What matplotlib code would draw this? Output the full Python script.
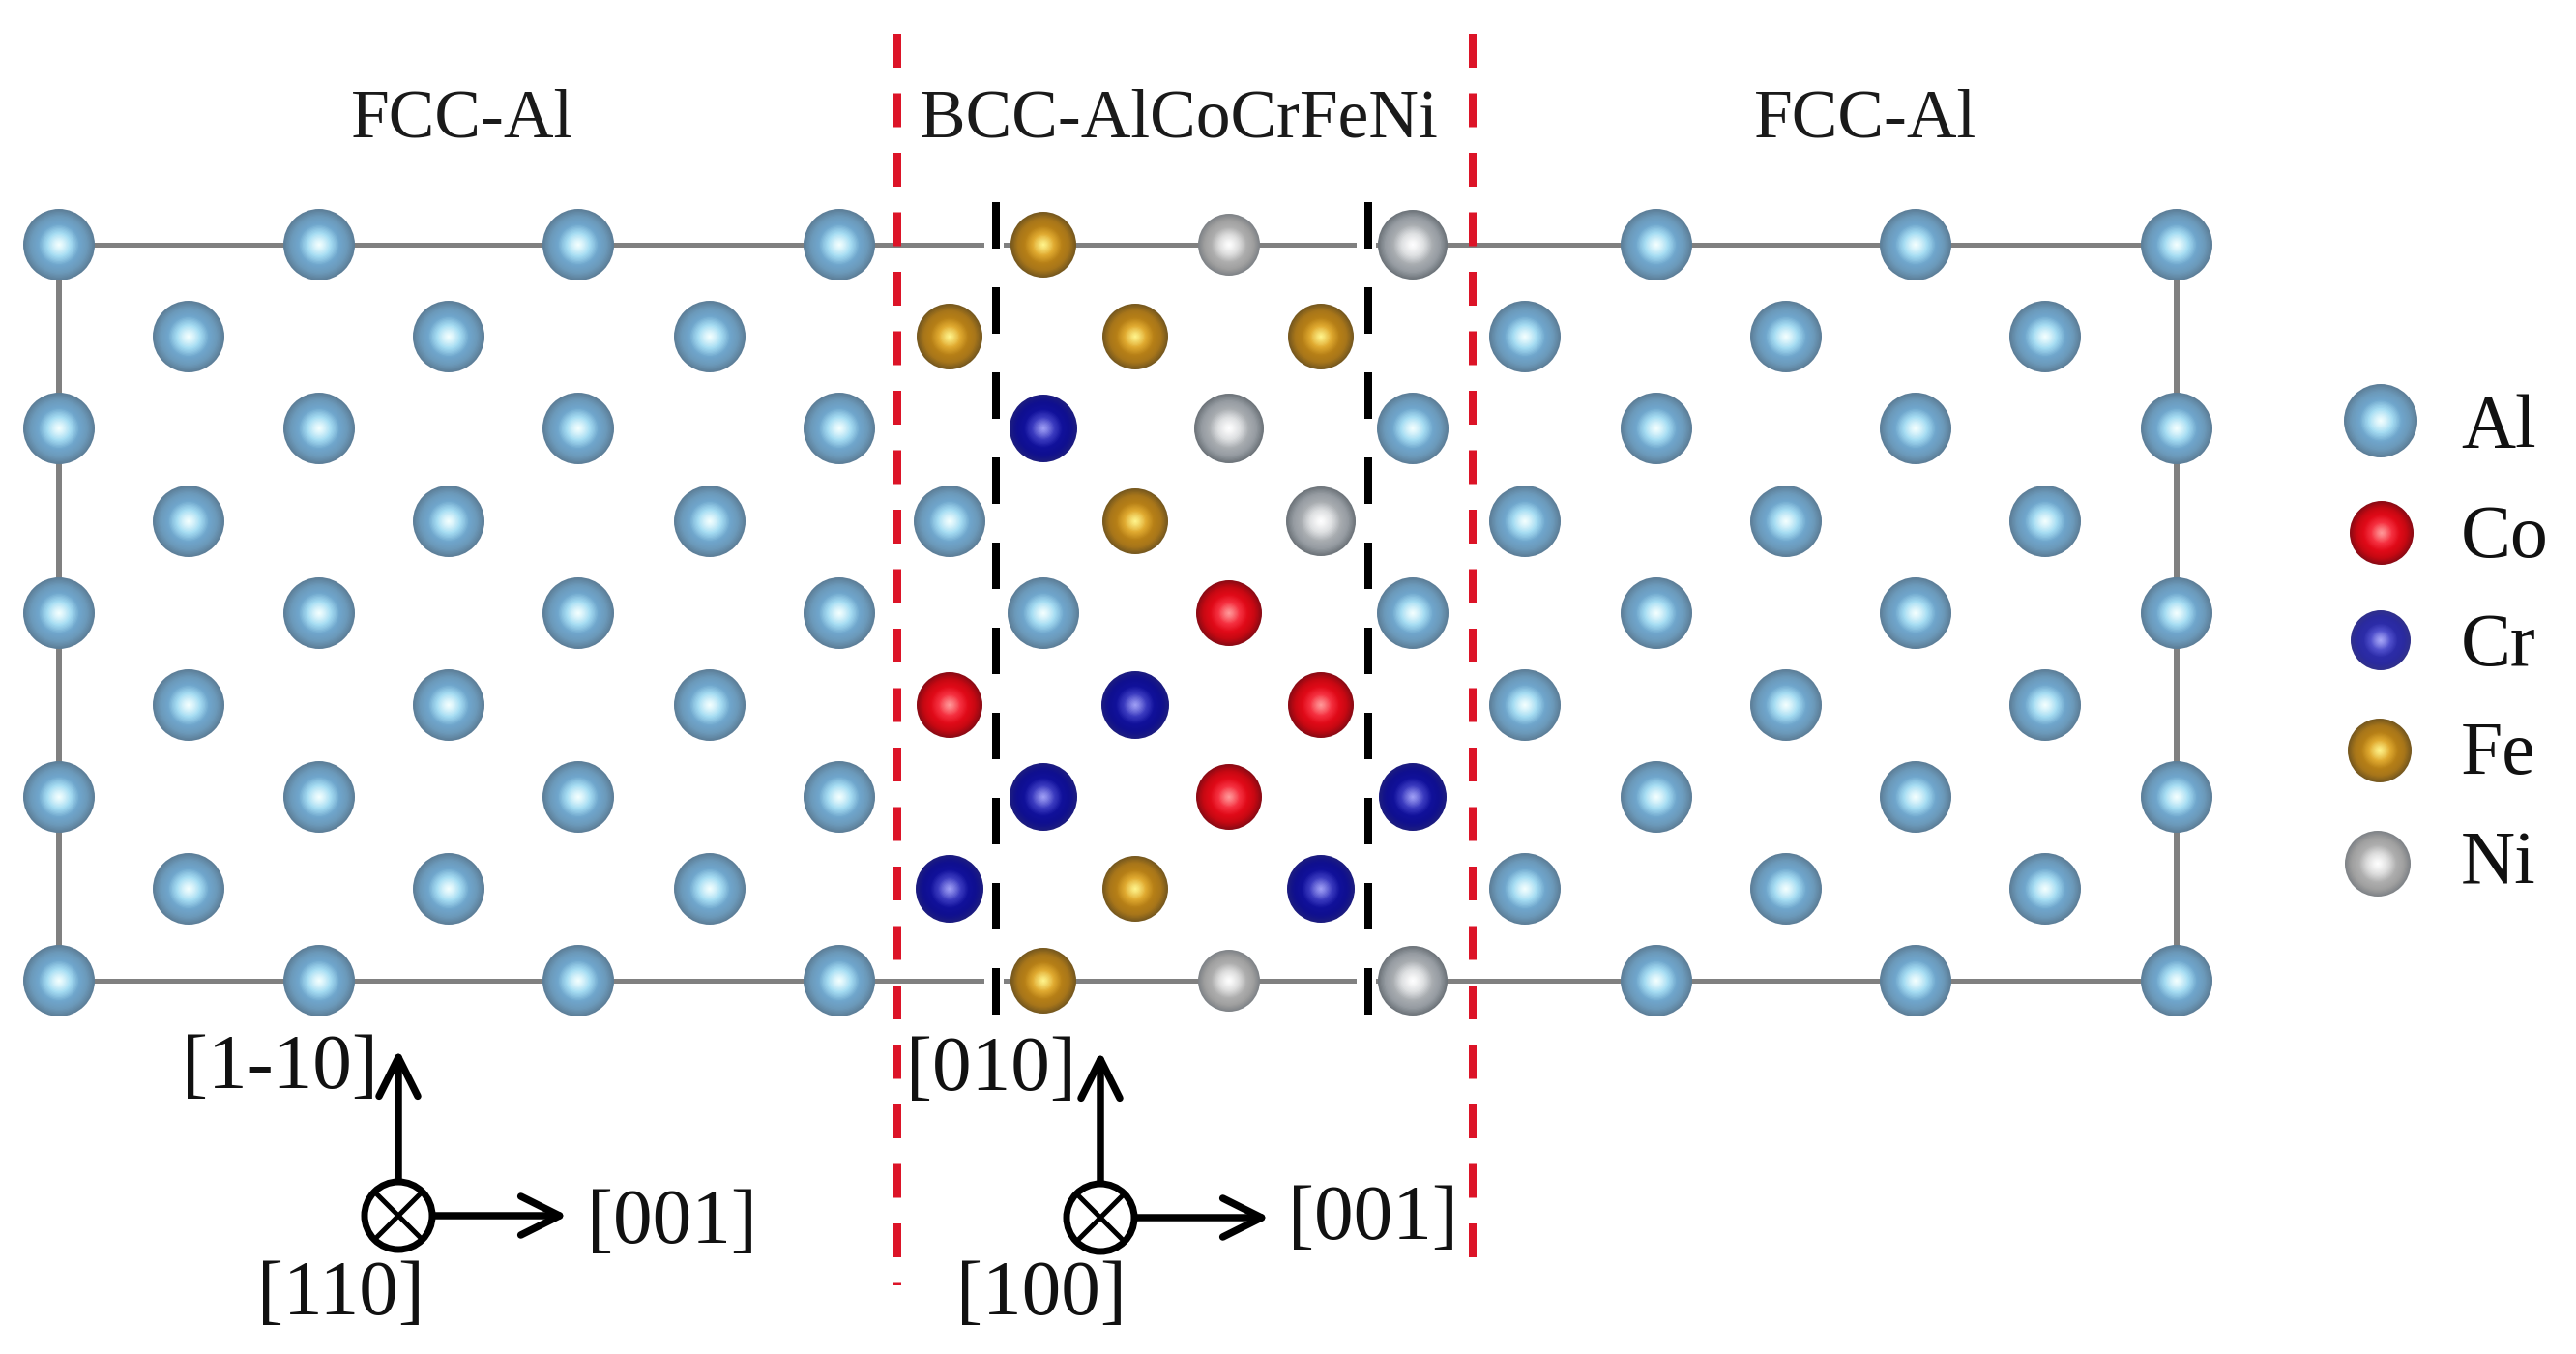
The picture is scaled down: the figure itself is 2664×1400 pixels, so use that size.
import matplotlib
matplotlib.use("Agg")
import matplotlib.pyplot as plt
import numpy as np
from matplotlib.colors import LinearSegmentedColormap
from matplotlib.patches import Circle

plt.rcParams['font.family'] = ['Liberation Serif', 'DejaVu Serif']

# all positions are in image pixels
row_y = [253, 348, 443, 539, 634, 729, 824, 919, 1014]
left_x_even = [61, 330, 598, 868]
left_x_odd = [195, 464, 734]
right_x_even = [1713, 1981, 2251]
right_x_odd = [1577, 1847, 2115]
mid_x_even = [1079, 1271, 1461]
mid_x_odd = [982, 1174, 1366]

# species of the three atoms per row in the BCC slab (Nd = the larger, darker Ni)
mid_species = [
    ['Fe', 'Ni', 'Nd'],
    ['Fe', 'Fe', 'Fe'],
    ['Cr', 'Nd', 'Al'],
    ['Al', 'Fe', 'Nd'],
    ['Al', 'Co', 'Al'],
    ['Co', 'Cr', 'Co'],
    ['Cr', 'Co', 'Cr'],
    ['Cr', 'Fe', 'Cr'],
    ['Fe', 'Ni', 'Nd'],
]

radius = {'Al': 37, 'Co': 34, 'Cr': 35, 'Fe': 34, 'Ni': 32, 'Nd': 36}
# centre -> edge colours of the shaded balls
shades = {
    'Al': ['#f4ffff', '#a5dcf2', '#6fa6cc', '#6c9abb', '#5d7f99'],
    'Co': ['#ff9a9a', '#f53040', '#e00a18', '#c80812', '#8c0a14'],
    'Cr': ['#a0a0f5', '#3c3cc0', '#10109a', '#0f0f90', '#1c1c80'],
    'Fe': ['#fff48c', '#e0aa30', '#b67f16', '#a8761a', '#77591f'],
    'Ni': ['#ffffff', '#dcdcdc', '#aeaeae', '#a0a0a0', '#808488'],
    'Nd': ['#ffffff', '#dcdee0', '#a8acb0', '#969ca2', '#6e757b'],
    'Cl': ['#a8a8f8', '#5050cc', '#2c2ca8', '#2a2aa0', '#30308c'],
}

legend_names = ['Al', 'Co', 'Cr', 'Fe', 'Ni']
legend_shades = ['Al', 'Co', 'Cl', 'Fe', 'Ni']
legend_x = [2462, 2463, 2462, 2461, 2459]
legend_y = [435, 551, 662, 776, 893]
legend_r = [38, 33, 31, 33, 34]
legend_text_y = [462, 576, 688, 800, 914]

title_text = ['FCC-Al', 'BCC-AlCoCrFeNi', 'FCC-Al']
title_x = [478, 1219, 1929]

# origin x, origin y, up tip y, right tip x
axes_ox = [412, 1138]
axes_oy = [1257, 1259]
axes_up_tip = [1085, 1087]
axes_right_tip = [587, 1313]
dir_labels = ['[1-10]', '[001]', '[110]', '[010]', '[001]', '[100]']
dir_x = [289, 695, 352, 1025, 1420, 1077]
dir_y = [1106, 1265, 1339, 1108, 1262, 1339]

PX = 72 / 100  # points per pixel at dpi 100

fig = plt.figure(figsize=(26.64, 14), dpi=100)
ax = fig.add_axes([0, 0, 1, 1])
ax.set_xlim(0, 2664)
ax.set_ylim(1400, 0)
ax.set_aspect('equal')
ax.axis('off')


def ball(x, y, r, name):
    cmap = LinearSegmentedColormap.from_list(name, shades[name])
    for f in np.linspace(1, 0.04, 26):
        ax.add_patch(Circle((x, y), r * f, color=cmap(f ** 1.3), lw=0, zorder=5))


# supercell frame
frame_x = [left_x_even[0], right_x_even[-1]]
ax.plot(frame_x, [row_y[0], row_y[0]], color='#808080', lw=5 * PX, zorder=1)
ax.plot(frame_x, [row_y[-1], row_y[-1]], color='#808080', lw=5 * PX, zorder=1)
ax.plot([frame_x[0], frame_x[0]], [row_y[0], row_y[-1]], color='#808080', lw=6 * PX, zorder=1)
ax.plot([frame_x[1], frame_x[1]], [row_y[0], row_y[-1]], color='#808080', lw=6 * PX, zorder=1)

# red interface lines
for x, y_end in zip([928, 1523], [1329, 1301]):
    ax.plot([x, x], [35, y_end], color='#dc1428', lw=8 * PX,
            dashes=(35 / 8, 26.5 / 8), dash_capstyle='butt', zorder=3)

# black slab lines, with a white gap in the frame behind them
for x in [1030, 1415]:
    for y in [row_y[0], row_y[-1]]:
        ax.plot([x - 2, x - 2], [y - 5, y + 5], color='white', lw=20 * PX,
                solid_capstyle='butt', zorder=2)
    ax.plot([x, x], [209, 1053], color='black', lw=8 * PX,
            dashes=(48 / 8, 40 / 8), dash_capstyle='butt', zorder=3)

# atoms
for i, y in enumerate(row_y):
    if i % 2 == 0:
        al_x = left_x_even + right_x_even
        mid_x = mid_x_even
    else:
        al_x = left_x_odd + right_x_odd
        mid_x = mid_x_odd
    for x in al_x:
        ball(x, y, radius['Al'], 'Al')
    for x, name in zip(mid_x, mid_species[i]):
        ball(x, y, radius[name], name)

# legend
for x, y, r, name, sh, ty in zip(legend_x, legend_y, legend_r, legend_names, legend_shades, legend_text_y):
    ball(x, y, r, sh)
    ax.text(2545, ty, name, fontsize=56, color='#111111', ha='left', va='baseline')

for x, s in zip(title_x, title_text):
    ax.text(x, 124, s, fontsize=51.5, color='#1a1a1a', ha='center', va='center')

# direction triads
for ox, oy, up, right in zip(axes_ox, axes_oy, axes_up_tip, axes_right_tip):
    style = "->,head_length=%.1f,head_width=%.1f" % (40 * PX, 20 * PX)
    for tip in [(ox, up), (right, oy)]:
        ax.annotate('', xy=tip, xytext=(ox, oy), zorder=6,
                    arrowprops=dict(arrowstyle=style, mutation_scale=1, color='black',
                                    lw=7.5 * PX, shrinkA=0, shrinkB=0))
    ax.add_patch(Circle((ox, oy), 35, fc='white', ec='black', lw=7 * PX, zorder=7))
    d = 35 * np.sqrt(0.5)
    ax.plot([ox - d, ox + d], [oy - d, oy + d], color='black', lw=5 * PX, zorder=8)
    ax.plot([ox - d, ox + d], [oy + d, oy - d], color='black', lw=5 * PX, zorder=8)

for x, y, s in zip(dir_x, dir_y, dir_labels):
    ax.text(x, y, s, fontsize=58.5, color='#111111', ha='center', va='center', zorder=9)

fig.savefig('out.png', dpi=100, facecolor='white')
